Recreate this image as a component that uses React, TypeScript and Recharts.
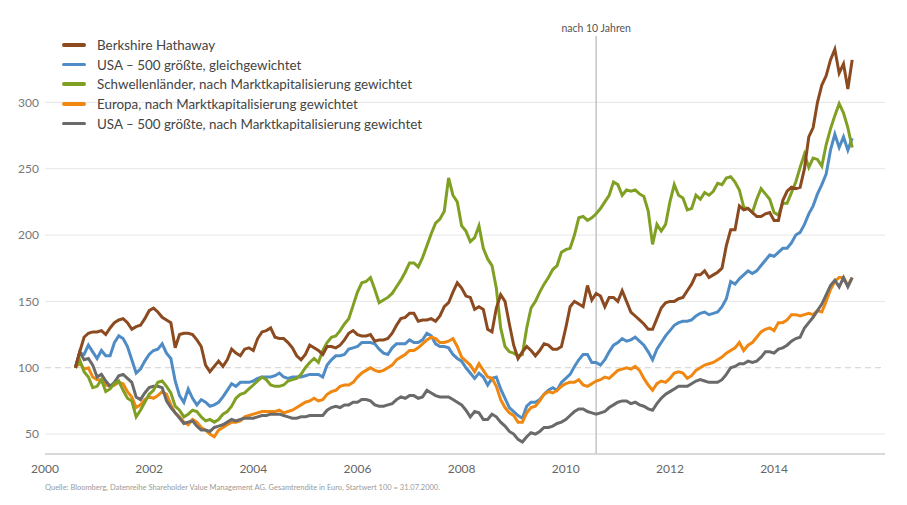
import React from "react";
import { LineChart, Line, XAxis, YAxis, CartesianGrid, ReferenceLine } from "recharts";

// monthly closes, Jul 2000 .. Jun 2015 (index 100 = 31.07.2000)
const START_YEAR = 2000;
const START_MONTH = 7;
const MONTH_COUNT = 180;

const berkshire = [
  100, 112, 123, 126, 127, 127, 128, 125, 130, 134, 136, 137,
  134, 129, 131, 132, 137, 143, 145, 142, 138, 136, 134, 115,
  125, 126, 126, 125, 121, 116, 102, 97, 101, 105, 101, 106,
  114, 111, 109, 114, 115, 113, 122, 127, 128, 130, 123, 122,
  122, 119, 115, 109, 106, 110, 117, 115, 113, 110, 116, 116,
  115, 117, 121, 126, 128, 125, 124, 124, 125, 120, 121, 121,
  122, 126, 132, 137, 138, 141, 141, 135, 136, 136, 137, 135,
  139, 146, 149, 157, 164, 160, 154, 153, 144, 146, 144, 129,
  127, 145, 155, 150, 133, 117, 107, 112, 116, 113, 109, 113,
  118, 117, 114, 114, 116, 130, 146, 150, 148, 146, 162, 151,
  156, 154, 146, 153, 153, 150, 158, 150, 142, 139, 136, 133,
  129, 129, 137, 145, 149, 150, 150, 152, 153, 158, 163, 170,
  170, 173, 168, 170, 172, 175, 192, 204, 204, 222, 219, 220,
  217, 214, 214, 216, 217, 211, 211, 226, 233, 236, 235, 236,
  250, 274, 281, 300, 313, 320, 332, 340, 322, 329, 310, 332,
];

const usaEqual = [
  100, 111, 110, 117, 112, 107, 113, 109, 109, 119, 124, 122,
  116, 106, 96, 99, 105, 110, 113, 114, 118, 111, 107, 90,
  79, 74, 84, 77, 72, 76, 74, 71, 72, 74, 78, 83,
  88, 86, 89, 89, 89, 90, 92, 93, 93, 93, 94, 96,
  93, 92, 93, 93, 93, 94, 95, 95, 95, 93, 102, 106,
  109, 109, 110, 114, 115, 116, 119, 119, 119, 118, 114, 111,
  110, 115, 118, 118, 118, 121, 119, 119, 121, 126, 124, 118,
  116, 116, 115, 110, 107, 105, 100, 96, 92, 96, 93, 87,
  92, 93, 84, 77, 70, 67, 64, 62, 71, 74, 74, 76,
  80, 83, 85, 83, 89, 92, 95, 101, 106, 110, 110, 104,
  104, 102, 106, 112, 117, 119, 122, 120, 121, 123, 120, 117,
  112, 106, 114, 119, 124, 128, 132, 134, 135, 135, 136, 139,
  141, 142, 140, 141, 142, 146, 152, 165, 163, 167, 170, 173,
  171, 173, 177, 181, 185, 184, 187, 190, 190, 194, 200, 202,
  208, 216, 222, 231, 238, 246, 264, 276, 266, 274, 264, 273,
];

const emerging = [
  100, 106, 97, 93, 85, 86, 91, 82, 84, 88, 90, 83,
  77, 75, 63, 68, 74, 80, 83, 89, 90, 86, 81, 71,
  68, 63, 65, 68, 67, 63, 60, 61, 59, 61, 65, 67,
  71, 77, 80, 81, 84, 87, 90, 93, 91, 87, 86, 86,
  87, 90, 91, 92, 95, 100, 104, 107, 104, 113, 119, 123,
  124, 128, 133, 137, 147, 157, 164, 165, 168, 159, 149, 151,
  153, 156, 161, 166, 172, 179, 179, 176, 183, 192, 201, 209,
  212, 218, 243, 230, 225, 207, 203, 195, 198, 207, 190, 182,
  177, 160, 130, 116, 112, 111, 109, 110, 130, 145, 150, 157,
  163, 168, 174, 177, 187, 189, 190, 200, 213, 214, 211, 213,
  216, 220, 225, 230, 240, 238, 230, 234, 233, 234, 231, 229,
  218, 193, 208, 203, 208, 225, 238, 230, 228, 219, 220, 230,
  227, 232, 230, 233, 239, 238, 243, 244, 240, 234, 221, 220,
  217, 227, 235, 231, 227, 217, 215, 224, 224, 232, 240, 251,
  261, 251, 258, 257, 252, 268, 280, 290, 299, 292, 281, 266,
];

const europe = [
  100, 104, 99, 100, 93, 91, 91, 87, 86, 87, 89, 88,
  82, 78, 70, 72, 76, 78, 77, 79, 82, 80, 72, 66,
  63, 59, 57, 61, 59, 55, 53, 50, 48, 53, 55, 57,
  59, 59, 60, 63, 64, 65, 66, 67, 67, 67, 67, 68,
  66, 67, 68, 70, 72, 74, 75, 77, 75, 76, 80, 82,
  83, 86, 87, 87, 89, 93, 96, 98, 100, 98, 97, 98,
  100, 102, 106, 108, 110, 113, 113, 115, 118, 121, 123, 122,
  119, 119, 120, 122, 116, 108, 105, 102, 97, 103, 98, 93,
  92, 86, 76, 70, 66, 64, 59, 59, 66, 70, 71, 75,
  80, 82, 81, 83, 86, 88, 89, 89, 91, 87, 86, 88,
  90, 91, 93, 92, 95, 98, 99, 100, 99, 101, 98, 92,
  87, 83, 88, 90, 89, 92, 96, 97, 96, 92, 94, 98,
  100, 102, 103, 104, 106, 108, 111, 113, 115, 119, 113, 117,
  119, 123, 127, 129, 130, 128, 134, 134, 136, 140, 140, 139,
  140, 141, 140, 143, 142, 150, 159, 165, 168, 168, 162, 168,
];

const usaCap = [
  100, 112, 106, 107, 102, 93, 95, 90, 86, 89, 94, 95,
  92, 89, 78, 76, 81, 85, 86, 86, 85, 75, 70, 66,
  62, 58, 59, 60, 56, 53, 53, 52, 55, 56, 57, 59,
  61, 60, 61, 62, 62, 62, 63, 64, 64, 65, 65, 65,
  64, 63, 62, 62, 63, 63, 64, 64, 64, 64, 68, 70,
  71, 70, 72, 72, 74, 74, 76, 76, 75, 72, 71, 71,
  72, 73, 76, 78, 77, 79, 79, 77, 78, 83, 81, 79,
  78, 78, 78, 76, 74, 72, 68, 63, 67, 66, 61, 61,
  65, 63, 59, 56, 52, 50, 46, 44, 48, 51, 50, 52,
  55, 55, 56, 58, 59, 61, 64, 67, 69, 69, 67, 66,
  65, 66, 67, 70, 72, 74, 75, 75, 73, 74, 72, 71,
  69, 68, 73, 77, 80, 82, 84, 86, 86, 86, 88, 90,
  91, 90, 89, 89, 89, 91, 95, 100, 101, 103, 103, 105,
  104, 105, 108, 112, 112, 111, 114, 115, 117, 120, 122, 123,
  130, 134, 138, 143, 148, 155, 162, 166, 161, 168, 161, 168,
];

const yearTicks = [2000, 2002, 2004, 2006, 2008, 2010, 2012, 2014];
const valueTicks = [50, 100, 150, 200, 250, 300];
const MARKER_DATE = 2010 + 7 / 12; // 31.07.2010

const series = [
  { key: "berkshire", name: "Berkshire Hathaway", color: "#8b4a1f" },
  { key: "usaEqual", name: "USA – 500 größte, gleichgewichtet", color: "#4f8cc5" },
  { key: "emerging", name: "Schwellenländer, nach Marktkapitalisierung gewichtet", color: "#80a024" },
  { key: "europe", name: "Europa, nach Marktkapitalisierung gewichtet", color: "#ef8710" },
  { key: "usaCap", name: "USA – 500 größte, nach Marktkapitalisierung gewichtet", color: "#6a6a6a" },
];

// drawing order: later ones on top
const drawOrder = ["usaEqual", "europe", "usaCap", "emerging", "berkshire"];

const data = Array.from({ length: MONTH_COUNT }, (_, i) => {
  const m = START_MONTH - 1 + i;
  const year = START_YEAR + Math.floor(m / 12);
  const month = (m % 12) + 1;
  return {
    t: year + month / 12,
    berkshire: berkshire[i],
    usaEqual: usaEqual[i],
    emerging: emerging[i],
    europe: europe[i],
    usaCap: usaCap[i],
  };
});

const FONT = "Lato, 'Open Sans', sans-serif";

export default function App() {
  return (
    <div style={{ position: "absolute", left: 0, top: 0, width: 907, height: 505, background: "#fff", fontFamily: FONT }}>
      <LineChart width={907} height={505} data={data} margin={{ top: 36, right: 22, bottom: 0, left: 0 }}>
        <CartesianGrid vertical={false} horizontalValues={[50, 150, 200, 250, 300]} stroke="#e6e6e6" strokeWidth={1} />
        <ReferenceLine y={100} stroke="#cfcfcf" strokeDasharray="6 4" strokeWidth={1} />
        <XAxis
          dataKey="t"
          type="number"
          domain={[2000, 2016.13]}
          ticks={yearTicks}
          height={51}
          tickLine={false}
          axisLine={{ stroke: "#cccccc", strokeWidth: 1.5 }}
          tick={{ fontSize: 12, fill: "#666", fontFamily: FONT }}
          tickMargin={4}
          allowDataOverflow
        />
        <YAxis
          type="number"
          domain={[35, 350]}
          ticks={valueTicks}
          width={45}
          axisLine={false}
          tickLine={false}
          tickSize={4}
          tick={{ fontSize: 12, fill: "#777", fontFamily: FONT }}
          allowDataOverflow
        />
        <ReferenceLine
          x={MARKER_DATE}
          stroke="#c4c4c4"
          strokeWidth={1.5}
          label={{ value: "nach 10 Jahren", position: "top", fill: "#555", fontSize: 10.5, fontFamily: FONT, offset: 4 }}
        />
        {drawOrder.map((k) => {
          const s = series.find((x) => x.key === k)!;
          return (
            <Line
              key={k}
              dataKey={k}
              name={s.name}
              stroke={s.color}
              strokeWidth={3}
              dot={false}
              type="linear"
              isAnimationActive={false}
            />
          );
        })}
      </LineChart>

      <div style={{ position: "absolute", left: 62, top: 35 }}>
        {series.map((s) => (
          <div key={s.key} style={{ display: "flex", alignItems: "center", height: 19.7 }}>
            <span style={{ display: "inline-block", width: 24, height: 3.5, background: s.color, borderRadius: 2, marginRight: 11 }} />
            <span style={{ fontSize: 13.4, color: "#444", whiteSpace: "nowrap" }}>{s.name}</span>
          </div>
        ))}
      </div>

      <div style={{ position: "absolute", left: 45, top: 483, fontSize: 7.5, color: "#9a9a9a", whiteSpace: "nowrap" }}>
        Quelle: Bloomberg, Datenreihe Shareholder Value Management AG. Gesamtrendite in Euro, Startwert 100 = 31.07.2000.
      </div>
    </div>
  );
}
